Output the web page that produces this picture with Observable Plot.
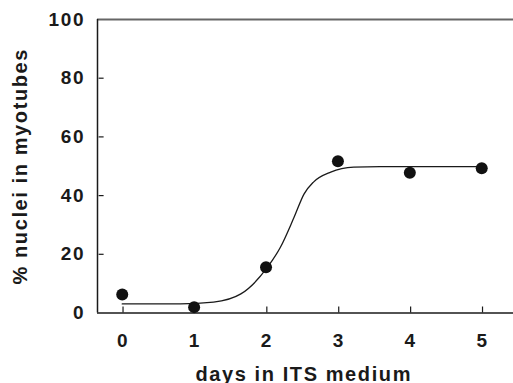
<!DOCTYPE html>
<html>
<head>
<meta charset="utf-8">
<script src="https://cdn.jsdelivr.net/npm/d3@7"></script>
<script src="https://cdn.jsdelivr.net/npm/@observablehq/plot@0.6"></script>
<style>
  html, body { margin: 0; padding: 0; background: #fff; }
  #chart svg { display: block; }
</style>
</head>
<body>
<div id="chart"></div>
<script>
// Measured data points
const days = [0, 1, 2, 3, 4, 5];
const nucleiPct = [6.3, 2.0, 15.6, 51.7, 47.8, 49.3];

// Fitted curve
const curveDays = [0, 0.81, 1.27, 1.65, 2.02, 2.20, 2.39, 2.53, 2.66, 2.90, 3.22, 3.59, 5];
const curvePct = [3.1, 3.1, 3.7, 6.5, 15.6, 22.4, 32.6, 40.6, 44.6, 48.0, 49.7, 49.9, 49.9];

// Ticks
const xTicks = [0, 1, 2, 3, 4, 5];
const yTicks = [0, 20, 40, 60, 80, 100];
const yInnerTicks = [20, 40, 60, 80];
const yEdgeTicks = [0, 100];

const xDomain = [-0.344, 5.442];
const yDomain = [0, 100];

const xTitle = "days in ITS medium";
const yTitle = "% nuclei in myotubes";

const points = days.map((d, i) => ({day: d, pct: nucleiPct[i]}));
const curve = curveDays.map((d, i) => ({day: d, pct: curvePct[i]}));

const font = "'Liberation Sans', Arial, Helvetica, sans-serif";
const ink = "#1a1a1a";

const chart = Plot.plot({
  width: 513,
  height: 383,
  marginLeft: 97,
  marginRight: 0,
  marginTop: 19,
  marginBottom: 70.5,
  style: {fontFamily: font, letterSpacing: "1.6px", background: "#fff", color: ink},
  x: {domain: xDomain, axis: null},
  y: {domain: yDomain, axis: null},
  marks: [
    Plot.ruleY([yDomain[1]], {stroke: "#666", strokeWidth: 2}),
    Plot.ruleX([xDomain[0]], {stroke: ink, strokeWidth: 1.5}),
    Plot.ruleY([yDomain[0]], {stroke: ink, strokeWidth: 1.5}),
    Plot.axisY(yInnerTicks, {
      anchor: "left", label: null, tickSize: -5, tickPadding: 19, stroke: ink, strokeWidth: 1.2,
      fill: ink, fontSize: 19, fontWeight: "bold", dx: 1.6
    }),
    Plot.axisY(yEdgeTicks, {
      anchor: "left", label: null, tickSize: 0, tickPadding: 14,
      fill: ink, fontSize: 19, fontWeight: "bold", dx: 1.6
    }),
    Plot.axisX(xTicks, {
      anchor: "bottom", label: null, tickSize: -6, tickPadding: 26.5, stroke: ink, strokeWidth: 1.2,
      fill: ink, fontSize: 19, fontWeight: "bold", dx: 0.8
    }),
    Plot.line(curve, {x: "day", y: "pct", curve: "monotone-x", stroke: ink, strokeWidth: 1.3}),
    Plot.dot(points, {x: "day", y: "pct", r: 6, fill: "#111", stroke: "none"}),
    Plot.text([xTitle], {
      frameAnchor: "bottom", textAnchor: "middle", lineAnchor: "bottom", dy: 67.5, dx: -1.8,
      fontSize: 20, fontWeight: "bold", fill: ink
    }),
    Plot.text([yTitle], {
      frameAnchor: "left", textAnchor: "middle", lineAnchor: "bottom", rotate: -90, dx: -71, dy: 0,
      fontSize: 20, fontWeight: "bold", fill: ink
    })
  ]
});

document.getElementById("chart").appendChild(chart);
</script>
</body>
</html>
